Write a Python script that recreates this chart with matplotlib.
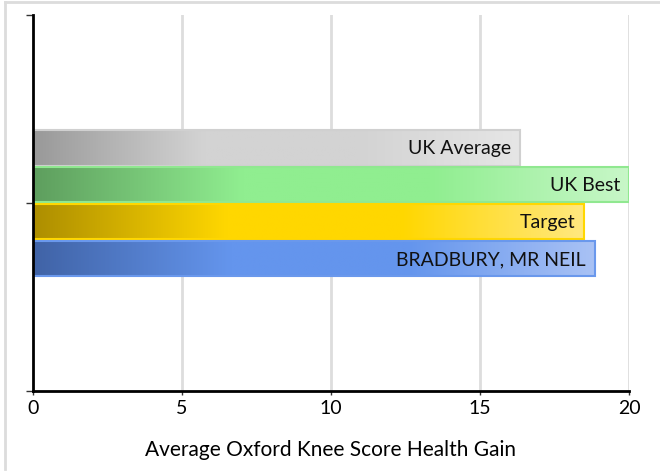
import numpy as np
import matplotlib.pyplot as plt
from matplotlib.colors import LinearSegmentedColormap, to_rgb
from matplotlib.patches import Rectangle

# bar data, top to bottom
labels = ['UK Average', 'UK Best', 'Target', 'BRADBURY, MR NEIL']
values = [16.35, 20.0, 18.5, 18.85]

# gradient colours: dark left end, base middle, pale right end
dark_cols = ['#999999', '#5e9e5e', '#ad8e00', '#4063a6']
base_cols = ['#d3d3d3', '#90ee90', '#ffd700', '#6495ed']
light_cols = ['#e6e6e6', '#c8f7c8', '#ffe880', '#a9c2f5']
edge_cols = ['#d0d0d0', '#90e890', '#ffd700', '#6a98ec']

xticks = [0, 5, 10, 15, 20]
xlabel = 'Average Oxford Knee Score Health Gain'

plt.rcParams['font.family'] = ['Lato', 'DejaVu Sans']

fig = plt.figure(figsize=(6.6, 4.77), dpi=100)
ax = fig.add_axes([0.05, 0.178, 0.903, 0.788])

# light frame round the chart (left and top sides)
fig.add_artist(plt.Line2D([0.008, 0.008], [0.015, 0.994], color='#dcdcdc', lw=2, transform=fig.transFigure))
fig.add_artist(plt.Line2D([0.008, 1.0], [0.994, 0.994], color='#dcdcdc', lw=2, transform=fig.transFigure))

bar_h = 0.094
step = 0.098
centers = [0.5 + k * step for k in (1.5, 0.5, -0.5, -1.5)]

for i in range(len(labels)):
    cmap = LinearSegmentedColormap.from_list(
        'g%d' % i,
        [(0.0, to_rgb(dark_cols[i])), (0.35, to_rgb(base_cols[i])),
         (0.67, to_rgb(base_cols[i])), (1.0, to_rgb(light_cols[i]))])
    grad = np.linspace(0, 1, 256).reshape(1, -1)
    y0 = centers[i] - bar_h / 2
    y1 = centers[i] + bar_h / 2
    ax.imshow(grad, cmap=cmap, extent=[0, values[i], y0, y1], aspect='auto', zorder=3, interpolation='bilinear')
    ax.add_patch(Rectangle((0, y0), values[i], bar_h, facecolor='none', edgecolor=edge_cols[i], lw=1.5, zorder=4))
    ax.text(values[i] - 0.3, centers[i], labels[i], ha='right', va='center', fontsize=14, color='#111111', zorder=5)

ax.set_xlim(0, 20)
ax.set_ylim(0, 1)
ax.set_xticks(xticks)
ax.set_xticklabels([str(t) for t in xticks], fontsize=14)
ax.set_yticks([0, 0.5, 1])
ax.set_yticklabels([])
ax.tick_params(axis='y', length=5, width=1, color='#333333')
ax.tick_params(axis='x', length=3, width=1, color='#333333', pad=3)
ax.set_xlabel(xlabel, fontsize=15, labelpad=16)

for x in xticks[1:]:
    ax.axvline(x, color='#dddddd', lw=2, zorder=1)

ax.spines['top'].set_visible(False)
ax.spines['right'].set_visible(False)
ax.spines['left'].set_linewidth(2)
ax.spines['bottom'].set_linewidth(2)
ax.spines['left'].set_zorder(6)

plt.savefig('out.png', dpi=100)
